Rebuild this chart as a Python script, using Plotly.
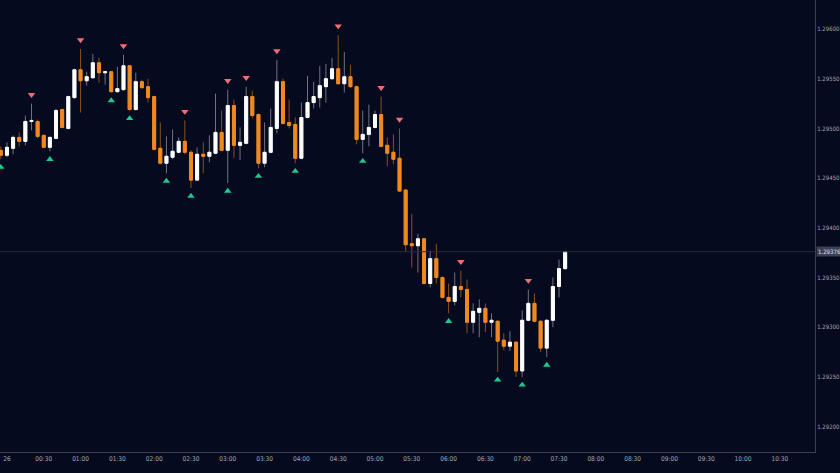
import pandas as pd
import plotly.graph_objects as go

# 5-minute candles, first one at 23:55 on the 25th
times = pd.date_range("2020-02-25 23:55", periods=93, freq="5min")

opens = [1.29478, 1.29473, 1.29480, 1.29491, 1.29487, 1.29507, 1.29507, 1.29493, 1.29481, 1.29490,
         1.29519, 1.29500, 1.29531, 1.29559, 1.29548, 1.29551, 1.29566, 1.29556, 1.29557, 1.29537,
         1.29539, 1.29563, 1.29519, 1.29547, 1.29542, 1.29532, 1.29480, 1.29465, 1.29471, 1.29476,
         1.29487, 1.29476, 1.29448, 1.29474, 1.29472, 1.29475, 1.29496, 1.29478, 1.29523, 1.29483,
         1.29485, 1.29532, 1.29514, 1.29465, 1.29476, 1.29500, 1.29547, 1.29506, 1.29504, 1.29470,
         1.29511, 1.29526, 1.29531, 1.29542, 1.29550, 1.29560, 1.29545, 1.29552, 1.29542, 1.29489,
         1.29494, 1.29501, 1.29514, 1.29483, 1.29476, 1.29470, 1.29438, 1.29384, 1.29382, 1.29389,
         1.29344, 1.29369, 1.29350, 1.29330, 1.29326, 1.29341, 1.29338, 1.29305, 1.29315, 1.29319,
         1.29305, 1.29306, 1.29287, 1.29281, 1.29285, 1.29256, 1.29307, 1.29324, 1.29306, 1.29279,
         1.29307, 1.29341, 1.29359]

highs = [1.29482, 1.29486, 1.29493, 1.29496, 1.29513, 1.29525, 1.29509, 1.29494, 1.29492, 1.29520,
         1.29520, 1.29533, 1.29560, 1.29580, 1.29557, 1.29575, 1.29571, 1.29558, 1.29558, 1.29562,
         1.29574, 1.29564, 1.29556, 1.29549, 1.29550, 1.29533, 1.29506, 1.29492, 1.29499, 1.29491,
         1.29508, 1.29478, 1.29481, 1.29486, 1.29493, 1.29535, 1.29518, 1.29539, 1.29529, 1.29501,
         1.29542, 1.29538, 1.29515, 1.29506, 1.29520, 1.29569, 1.29550, 1.29529, 1.29511, 1.29526,
         1.29553, 1.29547, 1.29563, 1.29565, 1.29571, 1.29594, 1.29577, 1.29564, 1.29543, 1.29518,
         1.29524, 1.29518, 1.29532, 1.29491, 1.29494, 1.29500, 1.29439, 1.29414, 1.29394, 1.29390,
         1.29377, 1.29384, 1.29351, 1.29344, 1.29355, 1.29357, 1.29348, 1.29324, 1.29328, 1.29324,
         1.29314, 1.29307, 1.29294, 1.29296, 1.29286, 1.29317, 1.29338, 1.29334, 1.29307, 1.29308,
         1.29350, 1.29368, 1.29377]

lows = [1.29469, 1.29471, 1.29474, 1.29482, 1.29483, 1.29498, 1.29490, 1.29480, 1.29477, 1.29489,
        1.29500, 1.29499, 1.29530, 1.29516, 1.29543, 1.29550, 1.29546, 1.29544, 1.29536, 1.29536,
        1.29538, 1.29518, 1.29518, 1.29540, 1.29526, 1.29478, 1.29464, 1.29455, 1.29469, 1.29475,
        1.29474, 1.29440, 1.29447, 1.29455, 1.29466, 1.29474, 1.29477, 1.29445, 1.29470, 1.29468,
        1.29484, 1.29510, 1.29460, 1.29461, 1.29475, 1.29495, 1.29504, 1.29500, 1.29465, 1.29469,
        1.29510, 1.29520, 1.29521, 1.29526, 1.29549, 1.29544, 1.29536, 1.29541, 1.29484, 1.29475,
        1.29482, 1.29500, 1.29481, 1.29462, 1.29464, 1.29436, 1.29376, 1.29360, 1.29355, 1.29343,
        1.29340, 1.29344, 1.29329, 1.29314, 1.29322, 1.29330, 1.29294, 1.29294, 1.29290, 1.29295,
        1.29290, 1.29255, 1.29277, 1.29276, 1.29250, 1.29250, 1.29306, 1.29305, 1.29275, 1.29270,
        1.29300, 1.29330, 1.29358]

closes = [1.29473, 1.29481, 1.29491, 1.29487, 1.29507, 1.29508, 1.29492, 1.29481, 1.29491, 1.29518,
          1.29501, 1.29532, 1.29559, 1.29548, 1.29552, 1.29566, 1.29556, 1.29557, 1.29537, 1.29540,
          1.29563, 1.29519, 1.29547, 1.29541, 1.29531, 1.29479, 1.29465, 1.29472, 1.29477, 1.29487,
          1.29476, 1.29448, 1.29474, 1.29472, 1.29476, 1.29496, 1.29478, 1.29523, 1.29483, 1.29486,
          1.29532, 1.29513, 1.29465, 1.29476, 1.29501, 1.29547, 1.29505, 1.29503, 1.29470, 1.29511,
          1.29526, 1.29532, 1.29543, 1.29550, 1.29560, 1.29545, 1.29552, 1.29542, 1.29489, 1.29494,
          1.29501, 1.29514, 1.29482, 1.29475, 1.29469, 1.29437, 1.29383, 1.29382, 1.29389, 1.29344,
          1.29369, 1.29350, 1.29330, 1.29326, 1.29341, 1.29338, 1.29305, 1.29316, 1.29319, 1.29305,
          1.29307, 1.29286, 1.29281, 1.29285, 1.29256, 1.29307, 1.29324, 1.29306, 1.29279, 1.29307,
          1.29341, 1.29359, 1.29376]

# fractal markers (positions in the arrays above)
fractal_high_idx = [5, 13, 20, 30, 37, 40, 45, 55, 62, 65, 75, 86]
fractal_low_idx = [0, 8, 18, 21, 27, 31, 37, 42, 48, 59, 73, 81, 85, 89]

tick_times = pd.date_range("2020-02-26 00:00", "2020-02-26 10:30", freq="30min")
tick_labels = ["26", "00:30", "01:00", "01:30", "02:00", "02:30", "03:00", "03:30", "04:00",
               "04:30", "05:00", "05:30", "06:00", "06:30", "07:00", "07:30", "08:00", "08:30",
               "09:00", "09:30", "10:00", "10:30"]
price_ticks = [1.29200, 1.29250, 1.29300, 1.29350, 1.29400, 1.29450, 1.29500, 1.29550, 1.29600]

BG = "#050a1f"
UP = "#ffffff"
DOWN = "#f0891f"
UP_WICK = "#6e7283"
DOWN_WICK = "#8a5119"
FONT = "Liberation Sans Narrow, DejaVu Sans Condensed, Roboto Condensed, Roboto"

body_hi = [max(o, c) for o, c in zip(opens, closes)]
body_lo = [min(o, c) for o, c in zip(opens, closes)]

fig = go.Figure()

# wicks
fig.add_trace(go.Candlestick(
    x=times, open=opens, high=highs, low=lows, close=closes,
    increasing=dict(line=dict(color=UP_WICK, width=1), fillcolor=UP_WICK),
    decreasing=dict(line=dict(color=DOWN_WICK, width=1), fillcolor=DOWN_WICK),
    whiskerwidth=0, showlegend=False, hoverinfo="skip"))

# bodies
fig.add_trace(go.Candlestick(
    x=times, open=opens, high=body_hi, low=body_lo, close=closes,
    increasing=dict(line=dict(color=UP, width=1), fillcolor=UP),
    decreasing=dict(line=dict(color=DOWN, width=1), fillcolor=DOWN),
    whiskerwidth=0, showlegend=False))

fig.add_trace(go.Scatter(
    x=[times[i] for i in fractal_high_idx],
    y=[highs[i] + 0.00009 for i in fractal_high_idx],
    mode="markers", marker=dict(symbol="triangle-down", size=6.5, color="#f06f77"),
    showlegend=False))
fig.add_trace(go.Scatter(
    x=[times[i] for i in fractal_low_idx],
    y=[lows[i] - 0.00008 for i in fractal_low_idx],
    mode="markers", marker=dict(symbol="triangle-up", size=6.5, color="#1ec98f"),
    showlegend=False))

last = closes[-1]
fig.add_hline(y=last, line=dict(color="#262b3c", width=1))
fig.add_annotation(x=1, xref="paper", xanchor="left", y=last, yref="y",
                   text=f"{last:.5f}", showarrow=False, xshift=1,
                   bgcolor="#3b4053", font=dict(color="#e0e3eb", size=6, family=FONT),
                   borderpad=1)

fig.update_layout(
    width=840, height=473,
    margin=dict(l=0, r=25, t=0, b=21),
    paper_bgcolor=BG, plot_bgcolor=BG,
    font=dict(family=FONT, size=6, color="#a4a7b0"),
    xaxis=dict(
        type="date", rangeslider=dict(visible=False),
        range=["2020-02-25 23:54:20", "2020-02-26 10:58:40"],
        tickvals=tick_times, ticktext=tick_labels,
        showgrid=False, zeroline=False,
        showline=True, linecolor="#3a3f52", linewidth=1,
        ticks="", tickfont=dict(size=6.5, color="#a4a7b0", family=FONT)),
    yaxis=dict(
        side="right", range=[1.291745, 1.296292],
        tickvals=price_ticks, tickformat=".5f",
        showgrid=False, zeroline=False,
        showline=True, linecolor="#3a3f52", linewidth=1,
        ticks="", ticklen=2, tickfont=dict(size=6, color="#a4a7b0", family=FONT)),
)

fig.write_html(
    "out.html",
    config={"displayModeBar": False},
    post_script=("document.body.style.margin='0';"
                 "document.body.style.background='" + BG + "';"
                 "document.body.style.overflow='hidden';"),
)
